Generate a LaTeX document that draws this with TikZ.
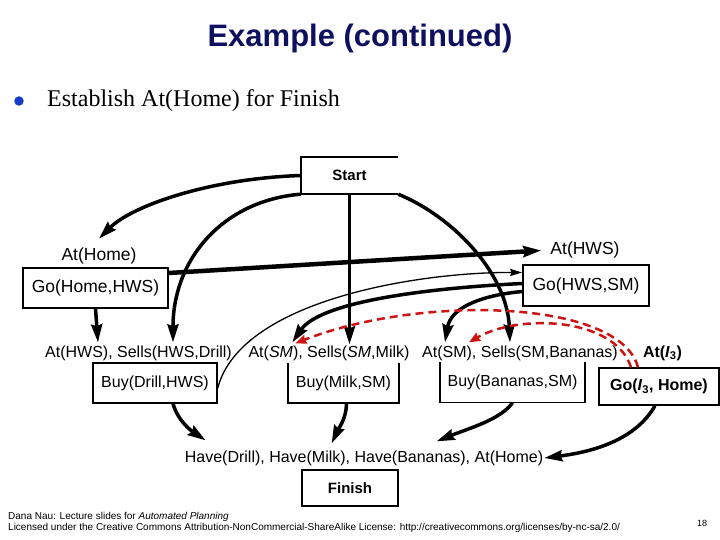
\documentclass[tikz,border=0pt]{standalone}
\usepackage{fontspec}
\setmainfont{Liberation Serif}
\setsansfont{Liberation Sans}
\usetikzlibrary{arrows.meta}
\definecolor{titlenavy}{RGB}{16,16,96}
\definecolor{dotblue}{RGB}{20,60,200}
\definecolor{threatred}{RGB}{204,20,20}
\newcommand{\upperfont}{\sffamily\fontsize{17.5}{20}\selectfont}
\newcommand{\lowerfont}{\sffamily\fontsize{16}{19}\selectfont}
\begin{document}
\begin{tikzpicture}[x=1pt,y=-1pt,
    box/.style={draw,line width=1.5pt,inner sep=0pt,font=\lowerfont},
    openbox/.style={inner sep=0pt,font=\lowerfont},
    lbl/.style={inner sep=1pt,font=\lowerfont},
    link/.style={line width=3.5pt,-{Stealth[length=18pt,width=11pt,inset=2pt]}},
    thinlink/.style={line width=1.3pt,-{Stealth[length=12pt,width=7pt,inset=1pt]}},
    threat/.style={threatred,line width=2.5pt,dash pattern=on 8pt off 5pt,-{Stealth[length=11pt,width=9pt,inset=1pt]}}]
\useasboundingbox (0,0) rectangle (720,540);

% heading
\node[font=\sffamily\bfseries\fontsize{31}{36}\selectfont,text=titlenavy] (title) at (360,38) {Example (continued)};
\node[circle,fill=dotblue,minimum size=9.5pt,inner sep=0pt] (dot) at (19,101) {};
\node[anchor=west,inner sep=0pt,font=\fontsize{24}{28}\selectfont] (point) at (47,101) {Establish At(Home) for Finish};

% steps
\node[openbox,font=\sffamily\bfseries\fontsize{15}{18}\selectfont,minimum width=97pt,minimum height=37pt] (start) at (349.5,175.5) {Start};
\draw[line width=1.5pt] (start.north east) -- (start.north west) -- (start.south west) -- (start.south east);
\node[box,font=\sffamily\bfseries\fontsize{15}{18}\selectfont,minimum width=96pt,minimum height=36pt] (finish) at (350,488) {Finish};
\node[box,font=\upperfont,minimum width=145pt,minimum height=40pt] (gohome) at (95.5,288) {Go(Home,HWS)};
\node[box,font=\upperfont,minimum width=126pt,minimum height=41pt] (gohws) at (586,285.5) {Go(HWS,SM)};
\node[box,minimum width=124pt,minimum height=40pt] (buydrill) at (155,383) {Buy(Drill,HWS)};
\node[openbox,minimum width=111pt,minimum height=40pt] (buymilk) at (343.5,383) {Buy(Milk,SM)};
\draw[line width=1.5pt] (buymilk.north west) -- (buymilk.south west) -- (buymilk.south east) -- (buymilk.north east);
\node[openbox,minimum width=145pt,minimum height=40pt] (buybananas) at (512.5,382.5) {Buy(Bananas,SM)};
\draw[line width=1.5pt] (buybananas.north west) -- (buybananas.south west) -- (buybananas.south east) -- (buybananas.north east);
\node[box,font=\sffamily\bfseries\fontsize{16}{19}\selectfont,minimum width=120pt,minimum height=37pt] (goithree) at (659,386.5) {Go(\textit{I}\textsubscript{3}, Home)};

% preconditions
\node[lbl,font=\upperfont] (athome) at (99,256) {At(Home)};
\node[lbl,font=\upperfont] (athws) at (585,250) {At(HWS)};
\node[lbl] (sellsdrill) at (138.5,353) {At(HWS), Sells(HWS,Drill)};
\node[lbl] (sellsmilk) at (329,353) {At(\textit{SM}), Sells(\textit{SM},Milk)};
\node[lbl] (sellsbananas) at (520,353) {At(SM), Sells(SM,Bananas)};
\node[lbl,font=\sffamily\bfseries\fontsize{16}{19}\selectfont] (atithree) at (662.5,353) {At(\textit{I}\textsubscript{3})};
\node[lbl] (have) at (364,458) {Have(Drill), Have(Milk), Have(Bananas), At(Home)};

% causal links
\draw[link] (start.west) .. controls +(-91,3) and +(33,-33) .. ([yshift=8pt]athome.north);
\draw[link] (start.south west) .. controls +(-76,6) and +(0,-85) .. ([xshift=129pt,yshift=2pt]sellsdrill.north west);
\draw[link] (start.south) -- (start.south |- sellsmilk.north);
\draw[link] (start.south east) .. controls +(52,21) and +(-3,-71) .. ([xshift=89pt,yshift=2pt]sellsbananas.north west);
\draw[link,line width=4.5pt,shorten >=8pt] ([yshift=15pt]gohome.east) -- (athws.west);
\draw[link] (gohome.south) -- ([xshift=54pt,yshift=2pt]sellsdrill.north west);
\draw[thinlink] ([yshift=-5pt]buydrill.east) .. controls +(23,-88) and +(-103,-0.5) .. ([yshift=13pt]gohws.west);
\draw[link] ([yshift=2pt]gohws.west) .. controls +(-93,4.5) and +(28,-41) .. ([xshift=45pt,yshift=2pt]sellsmilk.north west);
\draw[link] ([yshift=-6pt]gohws.west) .. controls +(-38,3.5) and +(6,-36) .. ([xshift=24pt,yshift=2pt]sellsbananas.north west);
\draw[link] ([xshift=18pt]buydrill.south) .. controls +(5,17) and +(-15,-10) .. ([xshift=22pt,yshift=9pt]have.north west);
\draw[link] ([xshift=3pt]buymilk.south) .. controls +(0,15) and +(7,-15) .. ([xshift=148pt,yshift=6pt]have.north west);
\draw[link] (buybananas.south) .. controls +(-12,17) and +(32,-13) .. ([xshift=253pt,yshift=8pt]have.north west);
\draw[link] ([xshift=-4pt]goithree.south) .. controls +(-20,35) and +(47,-6) .. (have.east);

% threats
\draw[threat] ([xshift=-21pt]goithree.north) .. controls +(-18,-68) and +(125,-49) .. ([xshift=48pt,yshift=1pt]sellsmilk.north west);
\draw[threat] ([xshift=-28pt]goithree.north) .. controls +(-16,-50) and +(50,-29) .. ([xshift=48pt,yshift=2pt]sellsbananas.north west);

% footer
\node[anchor=west,inner sep=0pt,font=\sffamily\fontsize{10}{11}\selectfont] (credit) at (8,517) {Dana Nau: Lecture slides for \textit{Automated Planning}};
\node[anchor=west,inner sep=0pt,font=\sffamily\fontsize{10}{11}\selectfont] (license) at (8,528) {Licensed under the Creative Commons Attribution-NonCommercial-ShareAlike License: http://creativecommons.org/licenses/by-nc-sa/2.0/};
\node[inner sep=0pt,font=\sffamily\fontsize{9}{10}\selectfont] (pagenum) at (702,523) {18};
\end{tikzpicture}
\end{document}
